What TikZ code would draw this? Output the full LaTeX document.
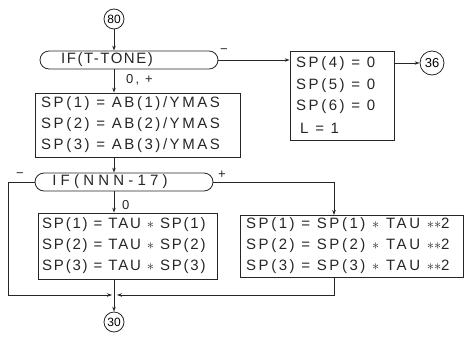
\documentclass[tikz,border=0pt]{standalone}
\usepackage{fontspec}
\setmainfont{Liberation Sans}[LetterSpace=17]
\usetikzlibrary{arrows.meta}
\begin{document}
\begin{tikzpicture}[x=1pt,y=-1pt,
  ink/.style={draw=black!85, line width=0.8pt},
  arr/.style={ink, -{Stealth[length=5pt,width=3.5pt]}},
  boxs/.style={ink, rectangle, inner sep=0pt},
  stad/.style={ink, rectangle, rounded corners=9pt, inner sep=0pt, minimum height=18pt},
  conn/.style={ink, circle, inner sep=0pt, font=\fontsize{12}{13}\selectfont\addfontfeature{LetterSpace=0}},
  txt/.style={inner sep=0pt, anchor=west, font=\fontsize{15}{17}\selectfont, text=black!85},
  txtn/.style={txt, font=\fontsize{15}{17}\selectfont\addfontfeature{LetterSpace=12}},
  lbl/.style={inner sep=0pt, font=\fontsize{13}{14}\selectfont, text=black!85}]
\useasboundingbox (0,0) rectangle (465,343);

% connectors (circles)
\node[conn, minimum size=20pt] (c80) at (114,19) {80};
\node[conn, minimum size=24pt, font=\fontsize{13}{14}\selectfont\addfontfeature{LetterSpace=0}] (c36) at (432,63) {36};
\node[conn, minimum size=20pt] (c30) at (114,322) {30};

% first decision
\node[stad, minimum width=178pt] (if1) at (129,60) {};
\node[txt, anchor=center, font=\fontsize{15}{17}\selectfont\addfontfeature{LetterSpace=10}] (if1t) at (107,60) {IF(T-TONE)};
\node[lbl] (if1m) at (224,51) {−};
\node[lbl, anchor=west] (if1p) at (126,80) {0, +};

% right top box
\node[boxs, minimum width=104pt, minimum height=89pt] (box2) at (342,95.5) {};
\node[txt] (b2r1) at (296,64) {SP(4) = 0};
\node[txt] (b2r2) at (296,86) {SP(5) = 0};
\node[txt] (b2r3) at (296,107) {SP(6) = 0};
\node[txt] (b2r4) at (300,128) {L = 1};

% box 1
\node[boxs, minimum width=205pt, minimum height=64pt] (box1) at (137.5,125) {};
\node[txt] (b1r1) at (41,104) {SP(1) = AB(1)/YMAS};
\node[txt] (b1r2) at (41,125) {SP(2) = AB(2)/YMAS};
\node[txt] (b1r3) at (41,146) {SP(3) = AB(3)/YMAS};

% second decision
\node[stad, minimum width=178pt] (if2) at (124,182) {};
\node[txt, anchor=center, font=\fontsize{15}{17}\selectfont\addfontfeature{LetterSpace=28}] (if2t) at (110,182) {IF(NNN-17)};
\node[lbl] (if2m) at (20,175) {−};
\node[lbl] (if2p) at (222,175) {+};
\node[lbl, anchor=west] (if2z) at (122,205) {0};

% box 3
\node[boxs, minimum width=179pt, minimum height=66pt] (box3) at (127.5,246) {};
\node[txtn] (b3r1) at (42,225) {SP(1) = TAU $\ast$ SP(1)};
\node[txtn] (b3r2) at (42,246) {SP(2) = TAU $\ast$ SP(2)};
\node[txtn] (b3r3) at (42,267) {SP(3) = TAU $\ast$ SP(3)};

% box 4
\node[boxs, minimum width=223pt, minimum height=62pt] (box4) at (351.5,246) {};
\node[txt] (b4r1) at (246,225) {SP(1) = SP(1) $\ast$ TAU $\ast\ast$2};
\node[txt] (b4r2) at (246,246) {SP(2) = SP(2) $\ast$ TAU $\ast\ast$2};
\node[txt] (b4r3) at (246,267) {SP(3) = SP(3) $\ast$ TAU $\ast\ast$2};

\coordinate (j) at (114,295);
\coordinate (b4in) at (334,215);
\coordinate (b4out) at (334,277);
\coordinate (lx) at (8,182);

% flow lines
\draw[arr] (c80.south) -- (c80.south |- if1.north);
\draw[arr] (if1.east) -- (if1.east -| box2.west);
\draw[arr] (box2.east |- c36) -- (c36.west);
\draw[arr] (if1.south -| c80) -- (box1.north -| c80);
\draw[arr] (box1.south -| c80) -- (if2.north -| c80);
\draw[arr] (if2.south -| c80) -- (box3.north -| c80);
\draw[arr, shorten >=2pt] (if2.west) -- (lx) |- (j);
\draw[arr] (if2.east) -| (b4in);
\draw[arr, shorten >=3pt] (b4out) |- (j);
\draw[arr] (box3.south -| c30) -- (c30.north);
\end{tikzpicture}
\end{document}
